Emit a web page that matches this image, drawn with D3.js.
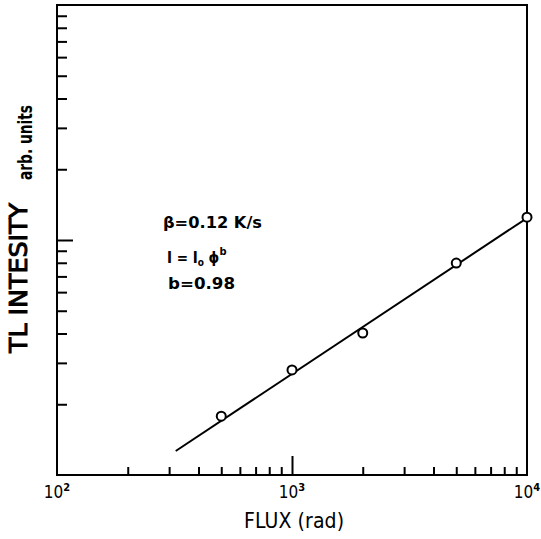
<!DOCTYPE html>
<html>
<head>
<meta charset="utf-8">
<script src="https://cdn.jsdelivr.net/npm/d3@7"></script>
<style>
body{margin:0;background:#fff;}
svg text{font-family:"DejaVu Sans Condensed","DejaVu Sans",sans-serif;fill:#000;}
.axis path,.axis line{stroke:#000;stroke-width:2;}
</style>
</head>
<body>
<script>
// measured points (flux in rad, TL intensity arb. units)
var flux = [500, 1000, 2000, 5000, 10000];
var intensity = [1.78, 2.80, 4.02, 7.98, 12.5];
// fitted line end points
var fitFlux = [320, 10000];
var fitIntensity = [1.265, 12.4];

var xMinor = [200,300,400,500,600,700,800,900,2000,3000,4000,5000,6000,7000,8000,9000];
var xMajor = [1000];
var xLabels = [[100,"10","2"],[1000,"10","3"],[10000,"10","4"]];
var yMinor = [2,3,4,5,6,7,8,9,20,30,40,50,60,70,80,90];
var yMajor = [10];

var width = 541,
    height = 539,
    pLeft = 57, pRight = 527, pTop = 5, pBottom = 475;

var x = d3.scaleLog().domain([100,10000]).range([pLeft,pRight]);
var y = d3.scaleLog().domain([1,100]).range([pBottom,pTop]);

var svg = d3.select("body").append("svg")
    .attr("width",width)
    .attr("height",height);

// frame
svg.append("rect")
    .attr("x",pLeft).attr("y",pTop)
    .attr("width",pRight-pLeft).attr("height",pBottom-pTop)
    .attr("fill","none").attr("stroke","#000").attr("stroke-width",2);

// ticks pointing inward
svg.append("g").attr("class","axis")
    .attr("transform","translate(0,"+pBottom+")")
    .call(d3.axisBottom(x).tickValues(xMinor).tickSize(-8).tickFormat(""))
    .select(".domain").remove();
svg.append("g").attr("class","axis")
    .attr("transform","translate(0,"+pBottom+")")
    .call(d3.axisBottom(x).tickValues(xMajor).tickSize(-19).tickFormat(""))
    .select(".domain").remove();
svg.append("g").attr("class","axis")
    .attr("transform","translate("+pLeft+",0)")
    .call(d3.axisLeft(y).tickValues(yMinor).tickSize(-10).tickFormat(""))
    .select(".domain").remove();
svg.append("g").attr("class","axis")
    .attr("transform","translate("+pLeft+",0)")
    .call(d3.axisLeft(y).tickValues(yMajor).tickSize(-16).tickFormat(""))
    .select(".domain").remove();

// x tick labels
var xl = svg.append("g").selectAll("text")
    .data(xLabels).enter()
    .append("text")
    .attr("x",function(d){return x(d[0]);})
    .attr("y",pBottom+23)
    .attr("text-anchor","middle")
    .style("font-size","17px");
xl.append("tspan").text(function(d){return d[1];});
xl.append("tspan").attr("dy",-7).style("font-size","11px").style("font-weight","bold").text(function(d){return d[2];});

// fit line
svg.append("line")
    .attr("x1",x(fitFlux[0])).attr("y1",y(fitIntensity[0]))
    .attr("x2",x(fitFlux[1])).attr("y2",y(fitIntensity[1]))
    .attr("stroke","#000").attr("stroke-width",2);

// data points
svg.append("g").selectAll("circle")
    .data(flux).enter()
    .append("circle")
    .attr("cx",function(d){return x(d);})
    .attr("cy",function(d,i){return y(intensity[i]);})
    .attr("r",4.5)
    .attr("fill","#fff").attr("stroke","#000").attr("stroke-width",2);

// axis titles
svg.append("text")
    .attr("x",(pLeft+pRight)/2+2).attr("y",528)
    .attr("text-anchor","middle")
    .style("font-size","21px")
    .attr("textLength",100)
    .text("FLUX (rad)");

svg.append("text")
    .attr("transform","translate(27,353) rotate(-90)")
    .style("font-size","25px")
    .attr("stroke","#000").attr("stroke-width",0.9)
    .attr("textLength",150).attr("lengthAdjust","spacingAndGlyphs")
    .text("TL INTESITY");
svg.append("text")
    .attr("transform","translate(32,180) rotate(-90)")
    .style("font-size","19px").style("font-weight","bold")
    .attr("textLength",75).attr("lengthAdjust","spacingAndGlyphs")
    .text("arb. units");

// annotation
var note = svg.append("g").style("font-size","15px").style("font-weight","bold");
note.append("text").attr("x",163).attr("y",228)
    .attr("textLength",99).attr("lengthAdjust","spacingAndGlyphs")
    .text("\u03B2=0.12 K/s");
var l2 = note.append("text").attr("x",167).attr("y",263);
l2.append("tspan").text("I = I");
l2.append("tspan").attr("dy",3).style("font-size","10px").text("o");
l2.append("tspan").attr("dy",-3).text(" \u03D5");
l2.append("tspan").attr("dy",-8).style("font-size","11px").text("b");
note.append("text").attr("x",168).attr("y",289)
    .attr("textLength",67).attr("lengthAdjust","spacingAndGlyphs")
    .text("b=0.98");
</script>
</body>
</html>
